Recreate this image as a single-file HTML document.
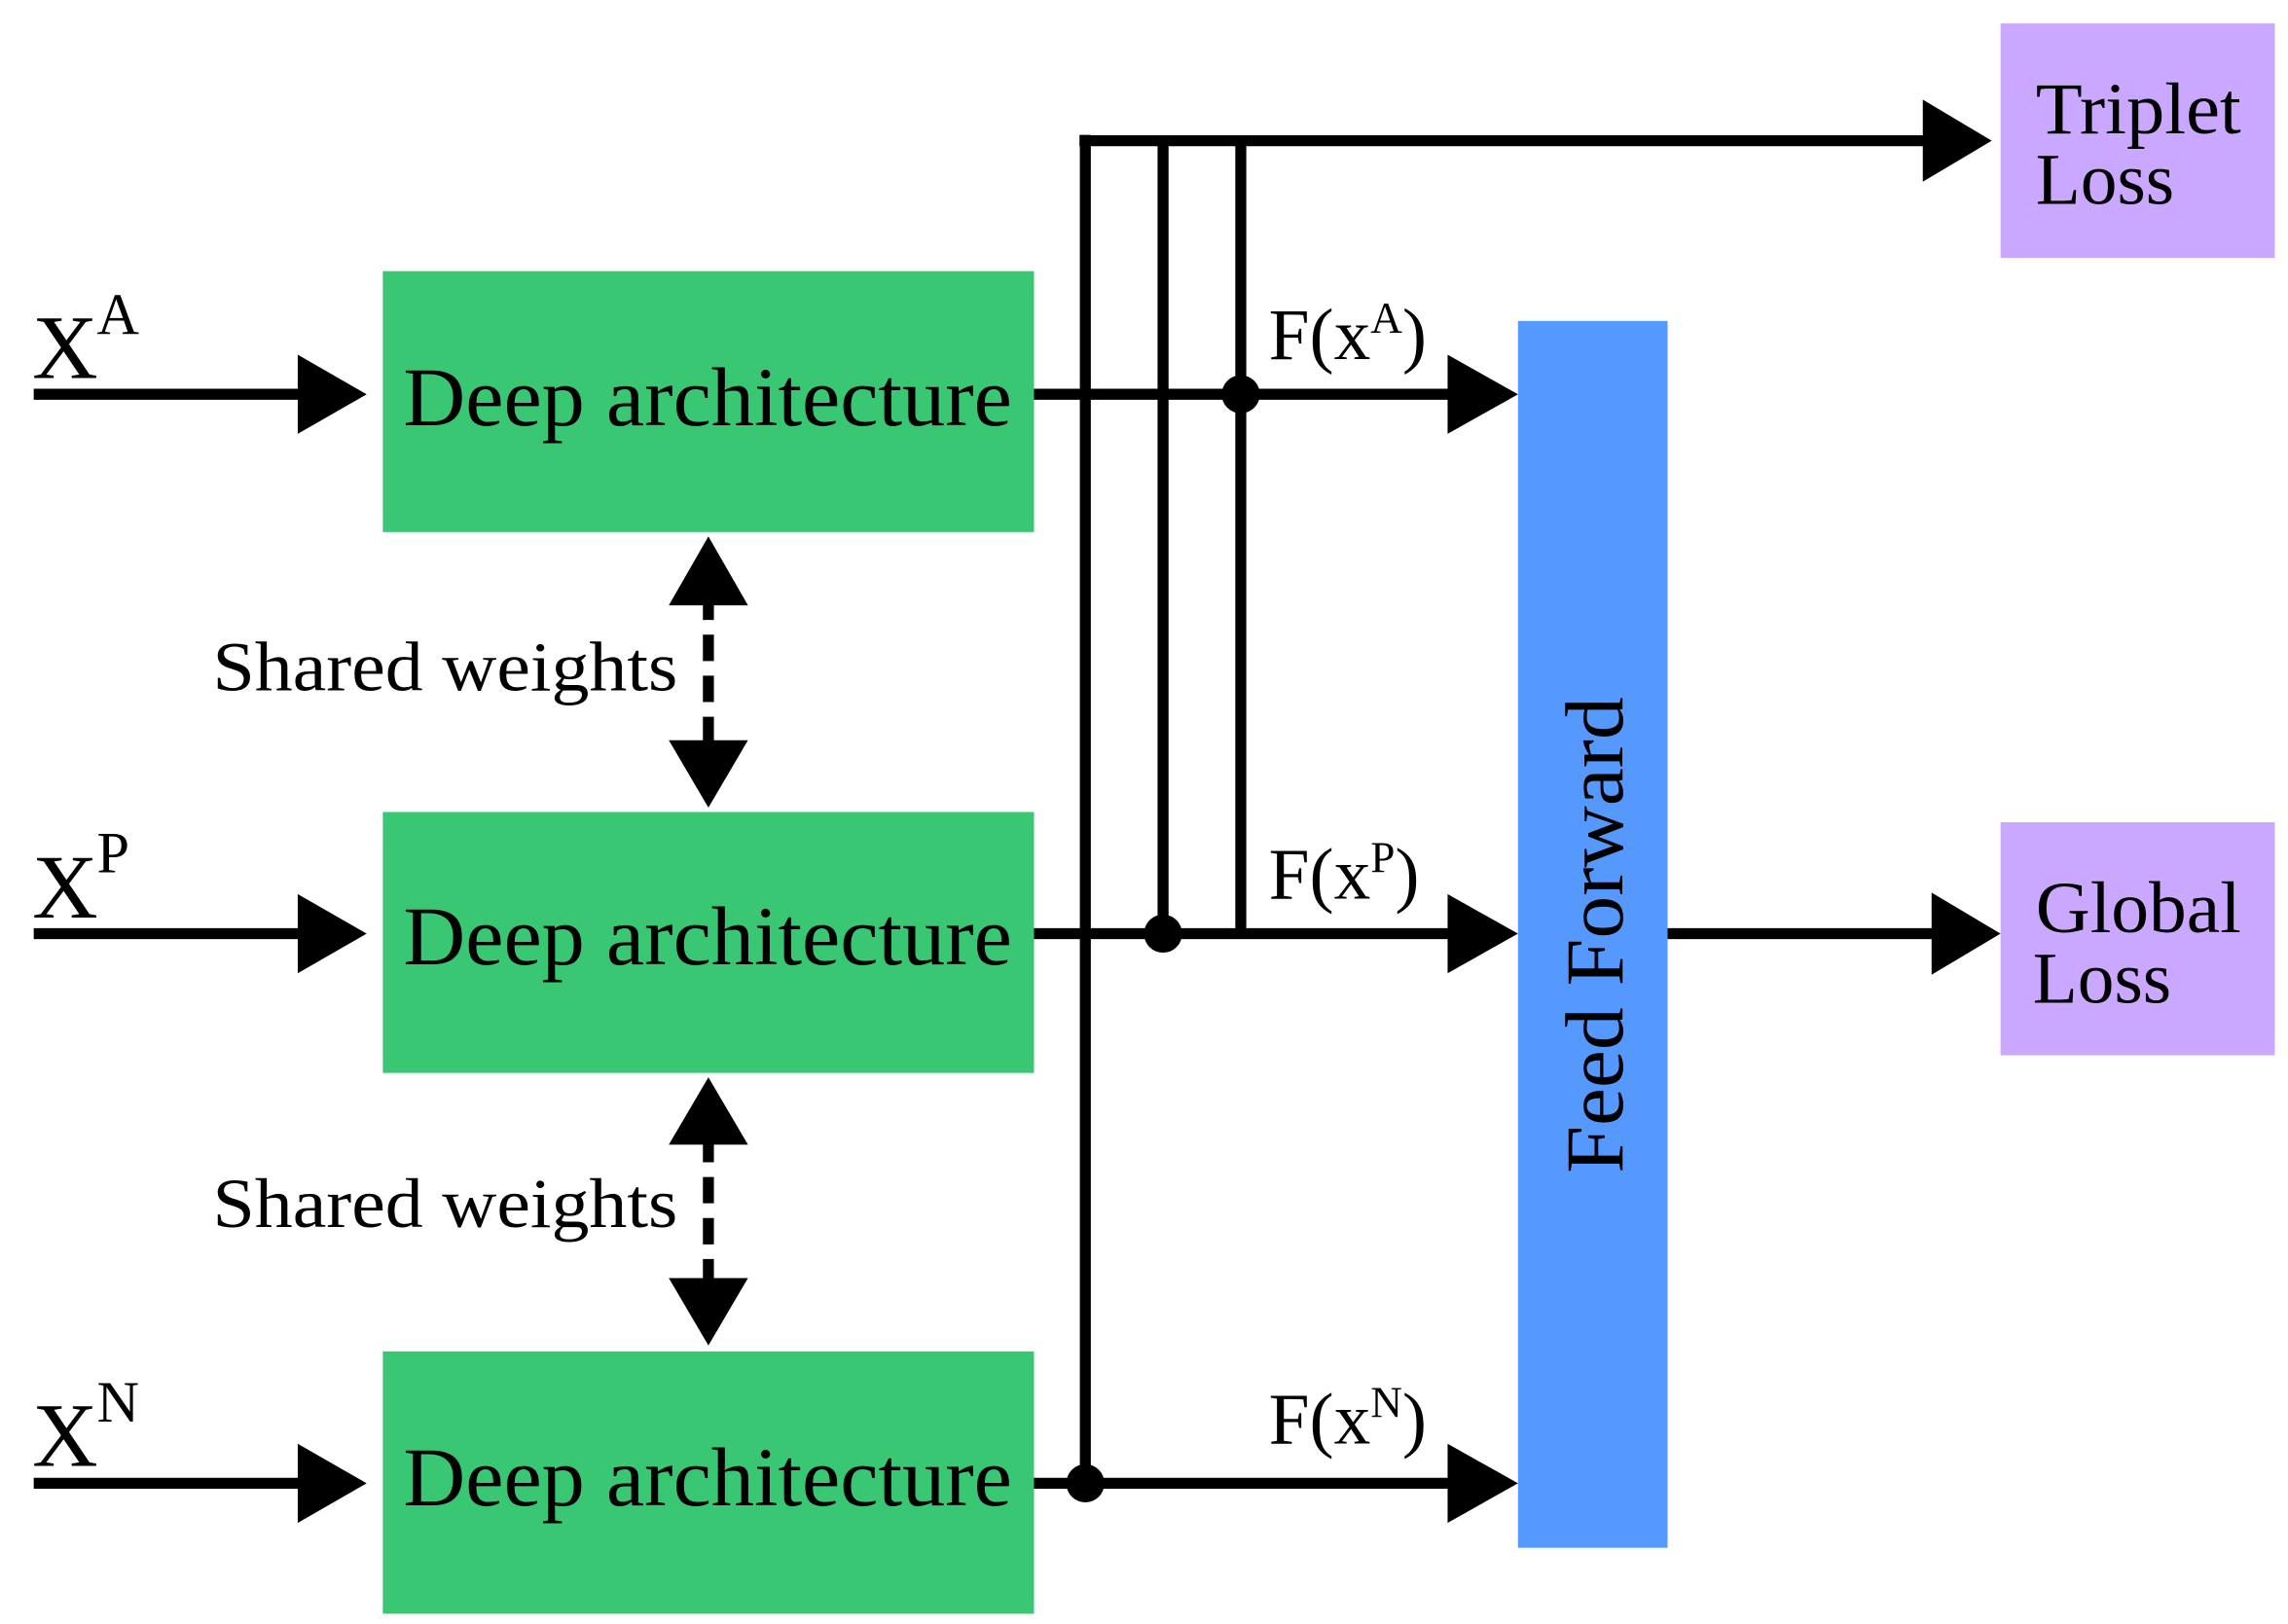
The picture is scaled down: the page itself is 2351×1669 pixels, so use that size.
<!DOCTYPE html>
<html><head><meta charset="utf-8"><style>
html,body{margin:0;padding:0;background:#fff;}
svg{display:block;}
text{font-family:"Liberation Serif",serif;fill:#000;}
</style></head><body>
<svg width="2351" height="1669" viewBox="0 0 1560 1108" preserveAspectRatio="none" xmlns="http://www.w3.org/2000/svg">
<rect x="261" y="185" width="444" height="178" fill="#39C773"/>
<rect x="261" y="554" width="444" height="178" fill="#39C773"/>
<rect x="261" y="922" width="444" height="179" fill="#39C773"/>
<text x="275" y="290" font-size="57" textLength="415" lengthAdjust="spacingAndGlyphs">Deep architecture</text>
<text x="275" y="658" font-size="57" textLength="415" lengthAdjust="spacingAndGlyphs">Deep architecture</text>
<text x="275" y="1027" font-size="57" textLength="415" lengthAdjust="spacingAndGlyphs">Deep architecture</text>
<rect x="1035" y="219" width="102" height="837" fill="#5599FF"/>
<text transform="translate(1106,638) rotate(-90)" text-anchor="middle" font-size="56" textLength="325" lengthAdjust="spacingAndGlyphs">Feed Forward</text>
<rect x="1364" y="16" width="187" height="160" fill="#CBA8FF"/>
<rect x="1364" y="561" width="187" height="159" fill="#CBA8FF"/>
<text x="1388" y="91" font-size="50" textLength="140" lengthAdjust="spacingAndGlyphs">Triplet</text>
<text x="1388" y="139" font-size="50">Loss</text>
<text x="1388" y="636" font-size="50" textLength="140" lengthAdjust="spacingAndGlyphs">Global</text>
<text x="1386" y="684" font-size="50">Loss</text>
<g stroke="#000" stroke-width="7.5" fill="none">
<line x1="23" y1="269" x2="210" y2="269"/>
<line x1="23" y1="637" x2="210" y2="637"/>
<line x1="23" y1="1012" x2="210" y2="1012"/>
<line x1="705" y1="269" x2="992" y2="269"/>
<line x1="705" y1="637" x2="992" y2="637"/>
<line x1="705" y1="1012" x2="992" y2="1012"/>
<line x1="740" y1="92" x2="740" y2="1012"/>
<line x1="793" y1="96" x2="793" y2="637"/>
<line x1="846" y1="96" x2="846" y2="637"/>
<line x1="736" y1="96" x2="1318" y2="96"/>
<line x1="1137" y1="637" x2="1322" y2="637"/>
<line x1="483" y1="405" x2="483" y2="510" stroke-dasharray="18,10"/>
<line x1="483" y1="775" x2="483" y2="878" stroke-dasharray="18,10"/>
</g>
<g fill="#000">
<polygon points="203,242 250,269 203,296"/>
<polygon points="203,610 250,637 203,664"/>
<polygon points="203,985 250,1012 203,1039"/>
<polygon points="987,242 1035,269 987,296"/>
<polygon points="987,610 1035,637 987,664"/>
<polygon points="987,985 1035,1012 987,1039"/>
<polygon points="1311,68 1358,96 1311,124"/>
<polygon points="1317,609 1364,637 1317,665"/>
<polygon points="456,413 483,366 510,413"/>
<polygon points="456,505 483,551 510,505"/>
<polygon points="456,781 483,735 510,781"/>
<polygon points="456,872 483,918 510,872"/>
<circle cx="846" cy="269" r="13"/>
<circle cx="793" cy="637" r="13"/>
<circle cx="740" cy="1012" r="13"/>
</g>
<text x="22" y="258" font-size="62">X</text><text x="66" y="228" font-size="40">A</text>
<text x="22" y="626" font-size="62">X</text><text x="66" y="595" font-size="40">P</text>
<text x="22" y="1000" font-size="62">X</text><text x="66" y="970" font-size="40">N</text>
<text x="145" y="471" font-size="48" textLength="317" lengthAdjust="spacingAndGlyphs">Shared weights</text>
<text x="145" y="837" font-size="48" textLength="317" lengthAdjust="spacingAndGlyphs">Shared weights</text>
<text x="865" y="245" font-size="50">F(x<tspan font-size="30" dy="-18">A</tspan><tspan dy="18">)</tspan></text>
<text x="865" y="613" font-size="50">F(x<tspan font-size="30" dy="-18">P</tspan><tspan dy="18">)</tspan></text>
<text x="865" y="985" font-size="50">F(x<tspan font-size="30" dy="-18">N</tspan><tspan dy="18">)</tspan></text>
</svg>
</body></html>
